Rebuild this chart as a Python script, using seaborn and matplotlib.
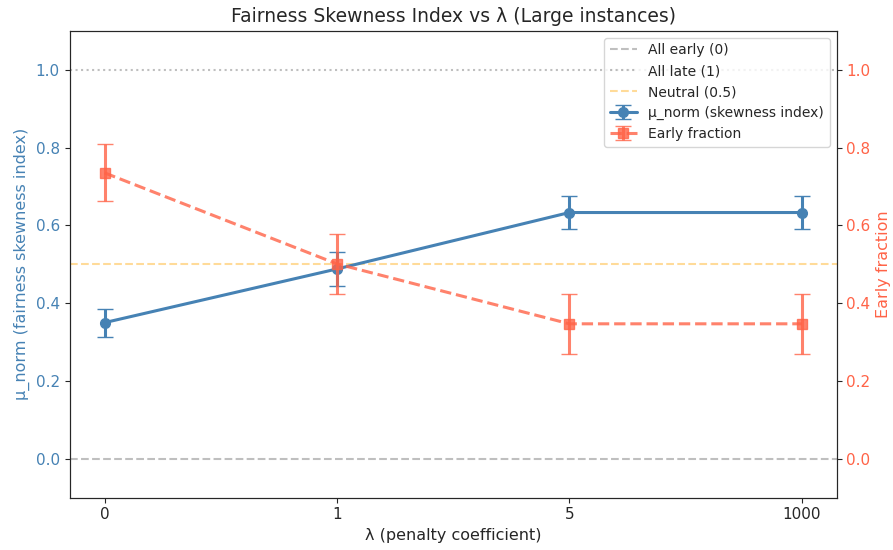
import numpy as np
import matplotlib
matplotlib.use("Agg")
import matplotlib.pyplot as plt
import seaborn as sns

# Data
lambda_labels = ["0", "1", "5", "1000"]
mu_norm = [0.350, 0.488, 0.633, 0.633]
mu_norm_err = [0.036, 0.044, 0.043, 0.043]
early_frac = [0.735, 0.501, 0.347, 0.347]
early_frac_err = [0.073, 0.078, 0.077, 0.077]

sns.set_style("ticks")
plt.rcParams["font.family"] = ["DejaVu Sans"]
plt.rcParams["xtick.labelsize"] = 11
plt.rcParams["ytick.labelsize"] = 11

fig, ax1 = plt.subplots(figsize=(8.93, 5.5), dpi=100)
fig.subplots_adjust(left=0.078, right=0.937, top=0.944, bottom=0.095)

x = np.arange(len(lambda_labels))

# reference lines
ax1.axhline(0, color="gray", linestyle="--", alpha=0.5, label="All early (0)")
ax1.axhline(1, color="gray", linestyle=":", alpha=0.5, label="All late (1)")
ax1.axhline(0.5, color="orange", linestyle="--", alpha=0.4, label="Neutral (0.5)")

ax1.errorbar(x, mu_norm, yerr=mu_norm_err, color="steelblue", marker="o",
             markersize=7, linewidth=2.2, capsize=6, label="μ_norm (skewness index)")
ax1.set_ylim(-0.1, 1.1)
ax1.set_ylabel("μ_norm (fairness skewness index)", color="steelblue", fontsize=11.5)
ax1.tick_params(axis="y", labelcolor="steelblue")
ax1.set_xticks(x)
ax1.set_xticklabels(lambda_labels)
ax1.set_xlabel("λ (penalty coefficient)", fontsize=11.5)

ax2 = ax1.twinx()
ax2.errorbar(x, early_frac, yerr=early_frac_err, color="tomato", marker="s",
             markersize=7, linewidth=2.2, linestyle="--", capsize=6, alpha=0.8,
             label="Early fraction")
ax2.set_ylim(-0.1, 1.1)
ax2.set_ylabel("Early fraction", color="tomato", fontsize=11.5)
ax2.tick_params(axis="y", labelcolor="tomato")

h1, l1 = ax1.get_legend_handles_labels()
h2, l2 = ax2.get_legend_handles_labels()
ax2.legend(h1 + h2, l1 + l2, loc="upper right", fontsize=10)

ax1.set_title("Fairness Skewness Index vs λ (Large instances)", fontsize=13.5)

plt.savefig("out.png", dpi=100)
